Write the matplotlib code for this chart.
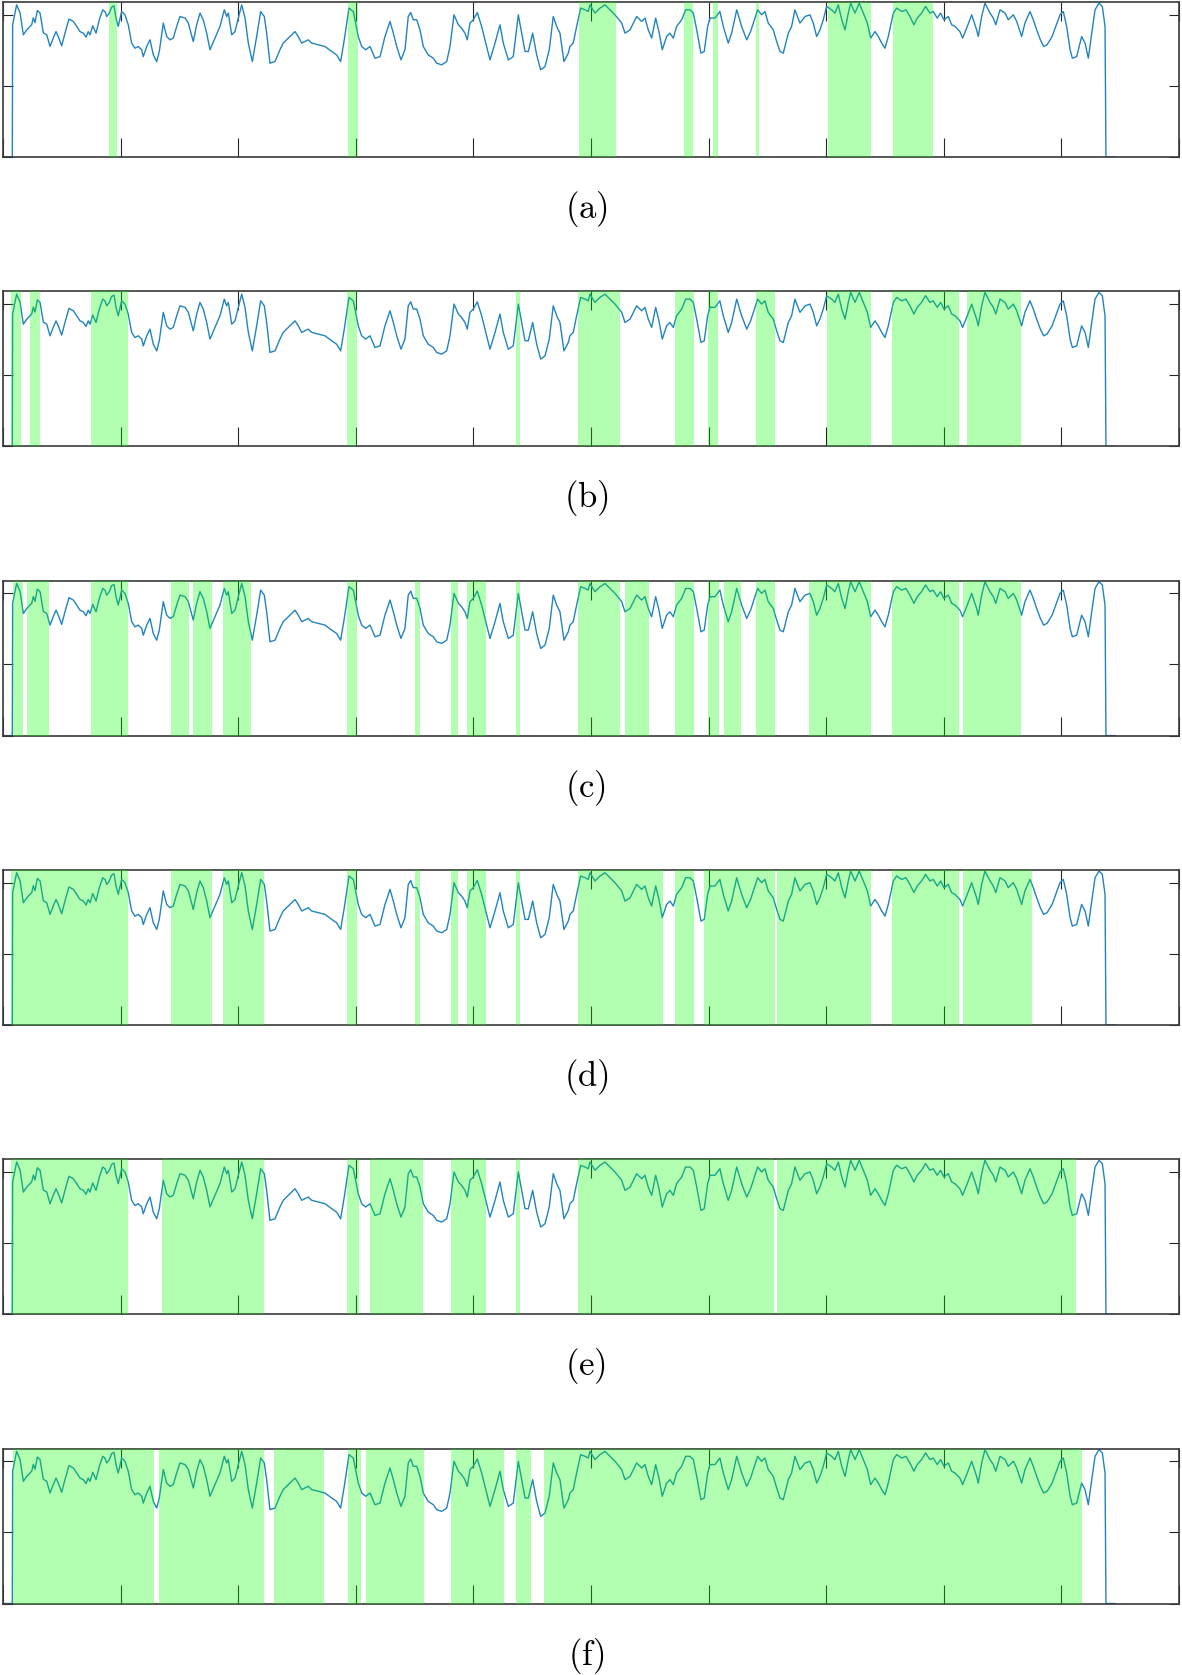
import numpy as np
import matplotlib.pyplot as plt

plt.rcParams['mathtext.fontset'] = 'cm'

# signal (same in every panel), x in samples-ish units 0..1000, y normalised
sig_x = [0, 7.9, 8.2, 11.6, 14.5, 17.3, 20.2, 24.4, 25.8, 27.2, 29.2, 31.5, 34.3, 37.2, 40.0, 42.8,
         45.1, 47.0, 49.9, 52.7, 56.1, 59.8, 62.7, 65.5, 68.3, 70.6, 72.5, 74.0, 76.3, 79.1, 81.9,
         84.8, 86.7, 88.2, 90.4, 92.4, 94.4, 96.1, 98.0, 100.9, 103.7, 106.5, 109.4, 112.2, 115.0,
         117.9, 119.3, 122.2, 125.0, 127.8, 130.7, 132.9, 136.3, 139.2, 142.0, 144.8, 147.7, 150.5,
         154.8, 157.6, 161.8, 164.7, 167.5, 170.3, 173.2, 176.0, 180.3, 184.5, 188.2, 190.2, 191.6,
         194.5, 197.3, 200.1, 203.0, 205.8, 208.6, 212.0, 215.7, 219.1, 222.2, 224.2, 227.0, 231.3,
         235.5, 238.3, 242.6, 248.3, 251.1, 254.0, 259.6, 262.5, 268.1, 273.8, 279.5, 283.7, 287.1,
         290.2, 294.2, 297.9, 302.1, 305.0, 308.4, 312.1, 316.3, 320.6, 324.8, 329.1, 331.9, 334.8,
         338.4, 341.8, 344.6, 346.7, 348.9, 351.8, 354.6, 357.4, 361.6, 365.9, 368.8, 373.0, 377.3,
         380.1, 383.5, 387.2, 390.0, 392.8, 394.8, 397.1, 399.9, 403.3, 407.0, 411.3, 414.1, 418.4,
         422.6, 425.4, 429.7, 433.9, 438.2, 441.6, 443.9, 446.7, 450.4, 453.8, 457.2, 460.9, 464.5,
         467.9, 470.8, 473.6, 477.0, 480.7, 482.1, 484.9, 487.8, 491.2, 494.9, 497.7, 499.1, 503.4,
         507.6, 511.9, 516.1, 520.4, 526.1, 528.9, 533.2, 538.8, 543.1, 545.9, 548.7, 551.6, 555.0,
         557.8, 560.6, 564.3, 567.1, 570.0, 572.8, 577.1, 580.5, 584.2, 587.0, 589.9, 593.5, 596.3,
         599.2, 601.2, 605.4, 609.6, 612.5, 616.7, 619.6, 623.9, 628.1, 632.4, 635.7, 639.4, 641.7,
         645.1, 647.9, 650.7, 655.0, 657.9, 660.7, 663.5, 667.8, 670.6, 673.4, 677.7, 682.0, 686.2,
         689.0, 691.9, 694.7, 697.5, 700.4, 704.6, 707.4, 710.3, 713.2, 716.0, 718.8, 720.8, 724.5,
         728.1, 731.5, 735.0, 737.8, 741.5, 744.3, 747.2, 750.0, 752.8, 757.1, 759.9, 764.2, 767.8,
         771.2, 774.6, 777.4, 781.1, 784.5, 788.2, 791.0, 794.4, 797.3, 800.1, 803.8, 806.7, 809.5,
         813.7, 816.0, 819.4, 823.7, 827.9, 829.3, 832.2, 835.0, 839.3, 842.1, 844.2, 847.8, 852.1,
         854.8, 859.1, 862.0, 866.2, 869.0, 873.3, 876.1, 879.0, 882.1, 884.9, 887.8, 892.1, 896.3,
         898.8, 901.6, 904.5, 907.4, 909.3, 913.0, 917.2, 920.1, 922.9, 925.8, 928.6, 932.0, 934.8,
         937.1, 937.9, 945.6]
sig_y = [0, 0, 0.93, 1.07, 1.014, 0.859, 0.894, 0.93, 0.979, 0.944, 1.03, 1.012, 0.873, 0.859, 0.777,
         0.838, 0.882, 0.847, 0.782, 0.871, 0.970, 0.953, 0.918, 0.882, 0.871, 0.843, 0.882, 0.859,
         0.923, 0.871, 0.965, 1.035, 1.023, 0.988, 1.012, 1.054, 1.063, 0.977, 0.918, 1.023, 1.0,
         0.93, 0.801, 0.765, 0.777, 0.754, 0.706, 0.777, 0.824, 0.718, 0.671, 0.742, 0.942, 0.847,
         0.824, 0.836, 0.918, 0.988, 0.977, 0.942, 0.812, 0.93, 1.012, 0.965, 0.871, 0.754, 0.836,
         0.918, 1.035, 0.988, 1.012, 0.859, 0.882, 0.977, 1.07, 0.977, 0.801, 0.671, 0.847, 1.023,
         0.988, 0.871, 0.660, 0.671, 0.754, 0.801, 0.836, 0.882, 0.847, 0.801, 0.824, 0.801, 0.789,
         0.777, 0.742, 0.718, 0.671, 0.824, 1.047, 1.023, 0.847, 0.777, 0.754, 0.777, 0.695, 0.706,
         0.847, 0.953, 0.871, 0.777, 0.683, 0.754, 0.988, 1.016, 0.965, 0.965, 0.894, 0.777, 0.718,
         0.695, 0.660, 0.648, 0.671, 0.777, 1.0, 0.93, 0.906, 0.871, 0.824, 0.942, 0.965, 1.016,
         0.918, 0.777, 0.683, 0.801, 0.93, 0.801, 0.683, 0.706, 1.0, 0.847, 0.742, 0.742, 0.871,
         0.718, 0.613, 0.636, 0.754, 0.988, 0.918, 0.871, 0.671, 0.73, 0.777, 0.801, 0.918, 1.047,
         1.035, 1.023, 1.07, 1.012, 1.047, 1.07, 1.035, 1.0, 0.942, 0.871, 0.894, 0.988, 0.953,
         0.977, 0.894, 0.836, 0.977, 0.882, 0.754, 0.847, 0.871, 0.836, 0.918, 0.965, 1.035, 1.035,
         1.012, 0.894, 0.730, 0.742, 0.918, 0.977, 0.977, 1.023, 0.918, 0.801, 0.871, 1.035, 0.918,
         0.824, 0.882, 0.977, 1.035, 1.0, 1.023, 0.942, 0.894, 0.812, 0.742, 0.730, 0.871, 0.918,
         1.035, 0.942, 0.988, 1.0, 0.942, 0.847, 0.894, 0.965, 1.059, 1.035, 1.012, 1.07, 0.965,
         0.894, 1.012, 1.082, 1.012, 1.082, 1.012, 0.942, 0.836, 0.882, 0.847, 0.801, 0.765, 0.847,
         1.012, 1.047, 1.023, 1.035, 0.988, 0.93, 0.977, 1.012, 1.059, 1.012, 1.023, 0.977, 1.012,
         0.965, 0.988, 0.93, 0.918, 0.882, 0.836, 0.906, 1.0, 0.894, 0.847, 0.988, 1.082, 1.012,
         0.977, 0.93, 1.035, 1.012, 0.965, 1.0, 0.953, 0.847, 0.942, 1.023, 0.965, 0.894, 0.824,
         0.777, 0.789, 0.847, 0.942, 1.0, 1.023, 0.918, 0.754, 0.695, 0.706, 0.847, 0.801, 0.695,
         0.871, 1.035, 1.082, 1.059, 0.918, 0, 0]

# detected segments (start, end) for each panel
seg_a = [(90.1, 97.2), (293.1, 301.6), (489.5, 521.2), (579.3, 587.0), (604.0, 608.2),
         (640.0, 642.8), (701.2, 738.1), (756.5, 791.0)]
seg_b = [(6.5, 15.6), (22.9, 31.1), (74.7, 106.5), (292.8, 301.0), (436.4, 440.0),
         (489.1, 524.5), (571.8, 587.2), (599.9, 608.1), (639.9, 656.3), (700.8, 738.0),
         (756.2, 812.6), (819.8, 865.3)]
seg_c = [(8.4, 17.4), (20.2, 39.2), (74.7, 106.5), (142.8, 158.3), (161.9, 177.4),
         (187.4, 211.0), (292.8, 301.0), (350.0, 354.6), (380.9, 387.3), (394.6, 410.9),
         (436.4, 440.0), (489.1, 524.5), (529.0, 549.0), (571.8, 587.2), (599.9, 609.0),
         (612.7, 627.2), (639.9, 656.3), (685.3, 738.0), (756.2, 812.6), (816.2, 865.3)]
seg_d = [(6.5, 106.5), (142.8, 177.4), (187.4, 221.9), (292.8, 301.0), (350.0, 354.6),
         (380.9, 387.3), (394.6, 410.9), (436.4, 440.0), (489.1, 560.8), (571.8, 587.2),
         (596.3, 656.3), (658.1, 738.0), (756.2, 812.6), (816.2, 875.3)]
seg_e = [(6.5, 106.5), (135.6, 221.9), (292.8, 302.8), (311.9, 357.3), (380.9, 410.9),
         (436.4, 440.0), (489.1, 655.4), (658.1, 912.5)]
seg_f = [(8.8, 128.6), (132.9, 222.2), (230.4, 273.2), (293.1, 304.4), (308.4, 358.2),
         (380.9, 426.4), (436.4, 449.1), (460.0, 917.1)]

panels = [seg_a, seg_b, seg_c, seg_d, seg_e, seg_f]
labels = ['(a)', '(b)', '(c)', '(d)', '(e)', '(f)']

W, H = 1182, 1675
fig = plt.figure(figsize=(W / 100, H / 100), dpi=100)

for i, segs in enumerate(panels):
    top = 2 + 289.3 * i
    bot = 157 + 289.3 * i
    ax = fig.add_axes([3 / W, 1 - bot / H, 1176 / W, (bot - top) / H])
    ax.plot(sig_x, sig_y, color='#2284be', lw=1.0, zorder=2, solid_joinstyle='round')
    for s, e in segs:
        ax.axvspan(s, e, color=(0, 1, 0), alpha=0.3, lw=0, zorder=3)
    ax.set_xlim(0, 1000)
    ax.set_ylim(0, 1.09)
    ax.set_xticks(np.arange(0, 1001, 100))
    ax.set_yticks([0, 0.5, 1.0])
    ax.set_xticklabels([])
    ax.set_yticklabels([])
    ax.tick_params(axis='x', direction='in', length=14, width=0.8, color='#262626',
                   top=True, bottom=True)
    ax.tick_params(axis='y', direction='in', length=7, width=0.8, color='#262626',
                   left=True, right=True)
    for sp in ax.spines.values():
        sp.set_color('#3a3a3a')
        sp.set_linewidth(1.2)
    fig.text(586 / W, 1 - (209 + 289.3 * i) / H, r'$\mathrm{' + labels[i] + '}$',
             ha='center', va='center', fontsize=25)

fig.savefig('out.png', dpi=100)
